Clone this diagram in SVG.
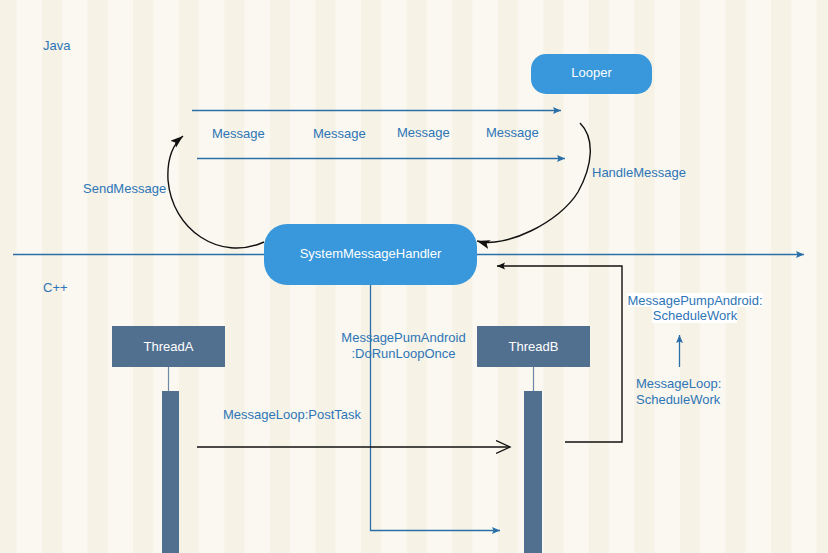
<svg xmlns="http://www.w3.org/2000/svg" width="828" height="553" viewBox="0 0 828 553">
<defs>
<pattern id="stripes" patternUnits="userSpaceOnUse" x="-3.57" y="0" width="45.57" height="553">
<rect x="0" y="0" width="45.57" height="553" fill="#faf8f0"/>
<rect x="0" y="0" width="20" height="553" fill="#f6f2e6"/>
</pattern>
<marker id="blueArrow" markerUnits="userSpaceOnUse" markerWidth="10" markerHeight="8" refX="8" refY="3.5" orient="auto">
<path d="M0,0 L8,3.5 L0,7 L1.5,3.5 z" fill="#2a6fa8"/>
</marker>
<marker id="blackBig" markerUnits="userSpaceOnUse" markerWidth="14" markerHeight="10" refX="13" refY="4.5" orient="auto">
<path d="M0,0 L13,4.5 L0,9 L3,4.5 z" fill="#111"/>
</marker>
<marker id="blackSmall" markerUnits="userSpaceOnUse" markerWidth="10" markerHeight="8" refX="8" refY="3.5" orient="auto">
<path d="M0,0 L8,3.5 L0,7 L1.5,3.5 z" fill="#111"/>
</marker>
<marker id="openArrow" markerUnits="userSpaceOnUse" markerWidth="16" markerHeight="15" refX="14" refY="7" orient="auto">
<path d="M0,0.5 L14,7 L0,13.5" fill="none" stroke="#111" stroke-width="1.3"/>
</marker>
<style>
text{font-family:"Liberation Sans",Arial,sans-serif;font-size:13px}
.lbl{fill:#2e75b6}
.ntxt{fill:#ffffff;text-anchor:middle}
.node{fill:#3898db}
.thread{fill:#51708f}
.blue{stroke:#2a6fa8;stroke-width:1.3;fill:none}
.black{stroke:#111;stroke-width:1.4;fill:none}
.life{stroke:#6d8aa8;stroke-width:1.2}
.mid{text-anchor:middle}
</style>
</defs>
<rect x="0" y="0" width="828" height="553" fill="url(#stripes)"/>

<text class="lbl" x="43" y="50">Java</text>
<text class="lbl" x="43" y="292">C++</text>

<g id="connectors">
<line class="blue" x1="13" y1="254.5" x2="804" y2="254.5" marker-end="url(#blueArrow)"/>
<line class="blue" x1="192" y1="110.5" x2="561" y2="110.5" marker-end="url(#blueArrow)"/>
<line class="blue" x1="197" y1="158.5" x2="565" y2="158.5" marker-end="url(#blueArrow)"/>
<path class="black" d="M264,242 C220,262 172,230 168,180 C167,160 171,146 183,136" marker-end="url(#blackBig)"/>
<path class="black" d="M580,123 C595,138 593,165 578,192 C560,222 505,249 477,241" marker-end="url(#blackBig)"/>
<polyline class="blue" points="370.5,285 370.5,530.5 500,530.5" marker-end="url(#blueArrow)"/>
<line class="black" x1="197" y1="447" x2="510" y2="447" marker-end="url(#openArrow)"/>
<polyline class="black" points="565,442 622,442 622,266 497,266" marker-end="url(#blackSmall)"/>
<line class="blue" x1="679.5" y1="367" x2="679.5" y2="335" marker-end="url(#blueArrow)"/>
<line class="life" x1="168.5" y1="367" x2="168.5" y2="391"/>
<line class="life" x1="533.5" y1="367" x2="533.5" y2="391"/>
</g>

<g id="labels">
<text class="lbl" x="212" y="138">Message</text>
<text class="lbl" x="313" y="138">Message</text>
<text class="lbl" x="397" y="137">Message</text>
<text class="lbl" x="486" y="137">Message</text>
<text class="lbl" x="83" y="193">SendMessage</text>
<text class="lbl" x="592" y="177">HandleMessage</text>
<text class="lbl mid" x="403.5" y="342">MessagePumAndroid</text>
<text class="lbl mid" x="403.5" y="358">:DoRunLoopOnce</text>
<text class="lbl" x="223" y="419">MessageLoop:PostTask</text>
<rect x="627" y="293" width="136" height="14" fill="#ffffff"/>
<rect x="652" y="307" width="85" height="16" fill="#ffffff"/>
<text class="lbl mid" x="695" y="305">MessagePumpAndroid:</text>
<text class="lbl mid" x="695" y="320">ScheduleWork</text>
<text class="lbl" x="636" y="388">MessageLoop:</text>
<text class="lbl" x="636" y="404">ScheduleWork</text>
</g>

<g id="looper">
<rect class="node" x="531" y="54" width="121" height="40" rx="15" ry="15"/>
<text class="ntxt" x="591.5" y="77">Looper</text>
</g>

<g id="systemMessageHandler">
<rect class="node" x="264" y="224" width="213" height="61" rx="23" ry="23"/>
<text class="ntxt" x="370.5" y="258">SystemMessageHandler</text>
</g>

<g id="threadA">
<rect class="thread" x="112" y="326" width="113" height="41"/>
<text class="ntxt" x="168.5" y="351">ThreadA</text>
<rect class="thread" x="162" y="391" width="17" height="162"/>
</g>

<g id="threadB">
<rect class="thread" x="477" y="326" width="113" height="41"/>
<text class="ntxt" x="533.5" y="351">ThreadB</text>
<rect class="thread" x="524" y="391" width="18" height="162"/>
</g>
</svg>
